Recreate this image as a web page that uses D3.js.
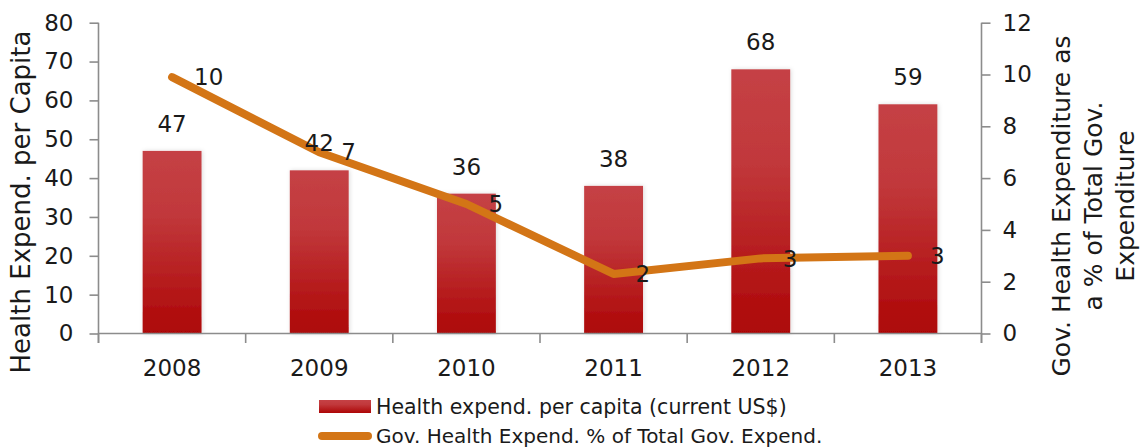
<!DOCTYPE html>
<html>
<head>
<meta charset="utf-8">
<script src="https://cdn.jsdelivr.net/npm/d3@7"></script>
<style>
  html, body { margin: 0; padding: 0; background: #fff; }
  svg { display: block; font-family: "DejaVu Sans", sans-serif; }
</style>
</head>
<body>
<svg id="chart" width="1140" height="448"></svg>
<script>
// Health expenditure per capita vs. government health share, 2008–2013
const years = ["2008", "2009", "2010", "2011", "2012", "2013"];
const perCapita = [47, 42, 36, 38, 68, 59];            // current US$
const govShare = [9.9, 7.0, 5.0, 2.3, 2.9, 3.0];       // % of total gov. expenditure
const leftTicks = [0, 10, 20, 30, 40, 50, 60, 70, 80];
const rightTicks = [0, 2, 4, 6, 8, 10, 12];
const leftTitle = "Health Expend. per Capita";
const rightTitle = ["Gov. Health Expenditure as", "a % of Total Gov.", "Expenditure"];
const legendBar = "Health expend. per capita (current US$)";
const legendLine = "Gov. Health Expend. % of Total Gov. Expend.";

const svg = d3.select("#chart");
const plot = { left: 98.5, right: 981.5, top: 22.7, bottom: 333.5 };

const x = d3.scaleBand().domain(years).range([plot.left, plot.right]).padding(0);
const yL = d3.scaleLinear().domain([0, 80]).range([plot.bottom, plot.top]);
const yR = d3.scaleLinear().domain([0, 12]).range([plot.bottom, plot.top]);

const axisColor = "#8c8c8c";
const textColor = "#1a1a1a";
const lineColor = "#D37516";
const numSize = 23;

// gradients and bar shadow
const defs = svg.append("defs");
const grad = defs.append("linearGradient").attr("id", "barGrad")
  .attr("x1", 0).attr("y1", 0).attr("x2", 0).attr("y2", 1);
grad.append("stop").attr("offset", "0%").attr("stop-color", "#C54145");
grad.append("stop").attr("offset", "35%").attr("stop-color", "#C1383B");
grad.append("stop").attr("offset", "100%").attr("stop-color", "#AD0606");
const shadow = defs.append("filter").attr("id", "barShadow")
  .attr("x", "-20%").attr("y", "-5%").attr("width", "140%").attr("height", "110%");
shadow.append("feDropShadow").attr("dx", 1).attr("dy", 0).attr("stdDeviation", 2.2)
  .attr("flood-color", "#000").attr("flood-opacity", 0.14);

// bars
const barW = x.bandwidth() * 0.4;
svg.append("g").selectAll("rect").data(perCapita).join("rect")
  .attr("x", (d, i) => x(years[i]) + (x.bandwidth() - barW) / 2)
  .attr("y", d => yL(d))
  .attr("width", barW)
  .attr("height", d => yL(0) - yL(d))
  .attr("fill", "url(#barGrad)")
  .attr("filter", "url(#barShadow)");

// left axis
const gL = svg.append("g").attr("transform", `translate(${plot.left},0)`)
  .call(d3.axisLeft(yL).tickValues(leftTicks).tickSize(9).tickPadding(16).tickSizeOuter(0));
// right axis
const gR = svg.append("g").attr("transform", `translate(${plot.right},0)`)
  .call(d3.axisRight(yR).tickValues(rightTicks).tickSize(9).tickPadding(12).tickSizeOuter(0));
[gL, gR].forEach(g => {
  g.select(".domain").attr("stroke", axisColor).attr("stroke-width", 1.6)
    .attr("d", `M0,${plot.top}V${plot.bottom + 9.5}`);
  g.selectAll(".tick line").attr("stroke", axisColor).attr("stroke-width", 1.6);
  g.selectAll(".tick text").attr("fill", textColor).attr("font-size", numSize)
    .attr("font-family", "DejaVu Sans, sans-serif");
});

// category axis: baseline, boundary ticks and year labels
const gB = svg.append("g");
gB.append("line").attr("x1", plot.left).attr("x2", plot.right)
  .attr("y1", plot.bottom).attr("y2", plot.bottom)
  .attr("stroke", axisColor).attr("stroke-width", 1.6);
const bounds = years.map(y => x(y)).concat([x.range()[1]]);
gB.selectAll("line.b").data(bounds).join("line").attr("class", "b")
  .attr("x1", d => d).attr("x2", d => d)
  .attr("y1", plot.bottom).attr("y2", plot.bottom + 9.5)
  .attr("stroke", axisColor).attr("stroke-width", 1.6);
const gX = svg.append("g").attr("transform", `translate(0,${plot.bottom})`)
  .call(d3.axisBottom(x).tickSize(0).tickPadding(26));
gX.select(".domain").remove();
gX.selectAll(".tick text").attr("fill", textColor).attr("font-size", numSize)
  .attr("font-family", "DejaVu Sans, sans-serif");

// line series
const xc = d => x(d) + x.bandwidth() / 2;
const line = d3.line().x((d, i) => xc(years[i])).y(d => yR(d));
svg.append("path").datum(govShare)
  .attr("d", line)
  .attr("fill", "none")
  .attr("stroke", lineColor)
  .attr("stroke-width", 8)
  .attr("stroke-linecap", "round")
  .attr("stroke-linejoin", "round");

// value labels
const fmt = d3.format(".0f");
svg.append("g").selectAll("text").data(perCapita).join("text")
  .attr("x", (d, i) => xc(years[i]))
  .attr("y", d => yL(d) - 19)
  .attr("text-anchor", "middle")
  .attr("font-size", numSize).attr("fill", textColor)
  .text(d => fmt(d));
svg.append("g").selectAll("text").data(govShare).join("text")
  .attr("x", (d, i) => xc(years[i]) + 22)
  .attr("y", d => yR(d))
  .attr("dy", "0.36em")
  .attr("text-anchor", "start")
  .attr("font-size", numSize).attr("fill", textColor)
  .text(d => fmt(d));

// axis titles
svg.append("text")
  .attr("transform", `translate(30,202) rotate(-90)`)
  .attr("text-anchor", "middle")
  .attr("font-size", 26).attr("fill", textColor)
  .text(leftTitle);
const rt = svg.append("text")
  .attr("transform", `translate(1070,206) rotate(-90)`)
  .attr("text-anchor", "middle")
  .attr("font-size", 25).attr("fill", textColor);
rt.selectAll("tspan").data(rightTitle).join("tspan")
  .attr("x", 0).attr("dy", (d, i) => i === 0 ? 0 : 32)
  .text(d => d);

// legend
const lg = svg.append("g");
lg.append("rect").attr("x", 319).attr("y", 400).attr("width", 52).attr("height", 13)
  .attr("fill", "url(#barGrad)");
lg.append("text").attr("x", 376).attr("y", 406.5).attr("dy", "0.36em")
  .attr("font-size", 20.5).attr("fill", textColor).text(legendBar);
lg.append("line").attr("x1", 322).attr("x2", 368).attr("y1", 436).attr("y2", 436)
  .attr("stroke", lineColor).attr("stroke-width", 8).attr("stroke-linecap", "round");
lg.append("text").attr("x", 376).attr("y", 436).attr("dy", "0.36em")
  .attr("font-size", 20).attr("fill", textColor).text(legendLine);
</script>
</body>
</html>
